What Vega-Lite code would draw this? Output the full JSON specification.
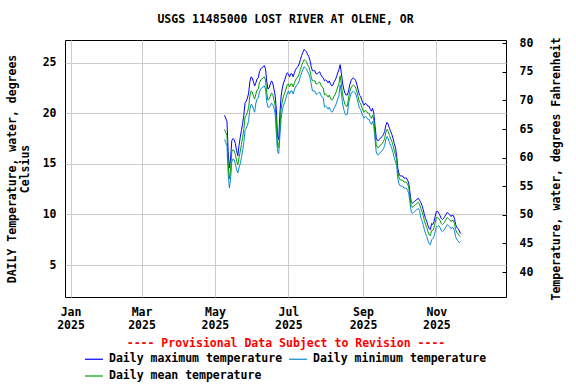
{
  "$schema": "https://vega.github.io/schema/vega-lite/v6.json",
  "width": 441,
  "height": 257,
  "autosize": {"type": "none"},
  "padding": {"left": 65, "top": 40, "right": 70, "bottom": 87},
  "background": "white",
  "config": {
    "font": "DejaVu Sans Mono",
    "view": {"stroke": "black", "strokeWidth": 1},
    "axis": {"labelFont": "DejaVu Sans Mono", "labelFontWeight": "bold", "labelFontSize": 11.5, "labelColor": "black", "titleFont": "DejaVu Sans Mono", "titleFontWeight": "bold", "titleFontSize": 11.5, "titleColor": "black"},
    "legend": {"labelFont": "DejaVu Sans Mono", "labelFontWeight": "bold", "labelFontSize": 11.5, "labelColor": "black"}
  },
  "title": {"text": "USGS 11485000 LOST RIVER AT OLENE, OR", "font": "DejaVu Sans Mono", "fontSize": 11.5, "fontWeight": "bold", "color": "black", "offset": 11},
  "resolve": {"scale": {"y": "independent"}, "axis": {"y": "independent"}},
  "layer": [
    {
      "data": {"values": [
        {"d":"2025-05-09","mx":19.8,"me":18.4,"mn":17.4},
        {"d":"2025-05-10","mx":19.5,"me":18.1,"mn":17.1},
        {"d":"2025-05-11","mx":19.2,"me":17.8,"mn":16.8},
        {"d":"2025-05-12","mx":16.2,"me":15.0,"mn":14.0},
        {"d":"2025-05-13","mx":14.6,"me":13.5,"mn":12.6},
        {"d":"2025-05-14","mx":15.5,"me":14.4,"mn":13.5},
        {"d":"2025-05-15","mx":17.3,"me":16.2,"mn":15.2},
        {"d":"2025-05-16","mx":17.5,"me":16.4,"mn":15.5},
        {"d":"2025-05-17","mx":17.4,"me":16.3,"mn":15.4},
        {"d":"2025-05-18","mx":17.0,"me":15.9,"mn":15.0},
        {"d":"2025-05-19","mx":16.3,"me":15.3,"mn":14.4},
        {"d":"2025-05-20","mx":15.8,"me":14.9,"mn":14.1},
        {"d":"2025-05-21","mx":16.8,"me":15.6,"mn":14.6},
        {"d":"2025-05-22","mx":17.6,"me":16.2,"mn":15.0},
        {"d":"2025-05-23","mx":18.3,"me":16.9,"mn":15.6},
        {"d":"2025-05-24","mx":19.0,"me":17.6,"mn":16.3},
        {"d":"2025-05-25","mx":19.8,"me":18.4,"mn":17.1},
        {"d":"2025-05-26","mx":21.0,"me":19.6,"mn":18.3},
        {"d":"2025-05-27","mx":21.2,"me":19.8,"mn":18.5},
        {"d":"2025-05-28","mx":21.5,"me":20.1,"mn":18.8},
        {"d":"2025-05-29","mx":22.0,"me":20.6,"mn":19.3},
        {"d":"2025-05-30","mx":23.1,"me":21.7,"mn":20.4},
        {"d":"2025-05-31","mx":23.6,"me":22.2,"mn":20.9},
        {"d":"2025-06-01","mx":23.5,"me":22.1,"mn":20.8},
        {"d":"2025-06-02","mx":23.1,"me":21.7,"mn":20.4},
        {"d":"2025-06-03","mx":22.7,"me":21.4,"mn":20.1},
        {"d":"2025-06-04","mx":23.0,"me":21.9,"mn":21.0},
        {"d":"2025-06-05","mx":23.4,"me":22.3,"mn":21.4},
        {"d":"2025-06-06","mx":23.5,"me":22.4,"mn":21.5},
        {"d":"2025-06-07","mx":24.1,"me":23.0,"mn":22.1},
        {"d":"2025-06-08","mx":24.4,"me":23.3,"mn":22.4},
        {"d":"2025-06-09","mx":24.5,"me":23.4,"mn":22.5},
        {"d":"2025-06-10","mx":24.6,"me":23.5,"mn":22.6},
        {"d":"2025-06-11","mx":24.7,"me":23.6,"mn":22.7},
        {"d":"2025-06-12","mx":24.4,"me":23.3,"mn":22.4},
        {"d":"2025-06-13","mx":23.2,"me":22.1,"mn":21.2},
        {"d":"2025-06-14","mx":22.4,"me":21.3,"mn":20.6},
        {"d":"2025-06-15","mx":22.5,"me":21.4,"mn":20.6},
        {"d":"2025-06-16","mx":22.9,"me":21.7,"mn":20.7},
        {"d":"2025-06-17","mx":23.2,"me":22.0,"mn":21.0},
        {"d":"2025-06-18","mx":23.0,"me":21.9,"mn":20.9},
        {"d":"2025-06-19","mx":22.4,"me":21.3,"mn":20.5},
        {"d":"2025-06-20","mx":21.8,"me":20.8,"mn":20.0},
        {"d":"2025-06-21","mx":20.4,"me":19.2,"mn":18.0},
        {"d":"2025-06-22","mx":17.8,"me":16.8,"mn":16.2},
        {"d":"2025-06-23","mx":17.4,"me":16.6,"mn":16.0},
        {"d":"2025-06-24","mx":20.0,"me":18.7,"mn":17.8},
        {"d":"2025-06-25","mx":21.7,"me":20.4,"mn":19.5},
        {"d":"2025-06-26","mx":22.5,"me":21.2,"mn":20.3},
        {"d":"2025-06-27","mx":23.0,"me":21.7,"mn":20.8},
        {"d":"2025-06-28","mx":23.3,"me":22.0,"mn":21.1},
        {"d":"2025-06-29","mx":23.7,"me":22.4,"mn":21.5},
        {"d":"2025-06-30","mx":24.0,"me":22.8,"mn":21.9},
        {"d":"2025-07-01","mx":23.9,"me":22.9,"mn":22.2},
        {"d":"2025-07-02","mx":23.6,"me":22.6,"mn":21.9},
        {"d":"2025-07-03","mx":23.9,"me":22.9,"mn":22.2},
        {"d":"2025-07-04","mx":23.9,"me":22.9,"mn":22.2},
        {"d":"2025-07-05","mx":23.6,"me":22.6,"mn":21.9},
        {"d":"2025-07-06","mx":24.0,"me":23.0,"mn":22.3},
        {"d":"2025-07-07","mx":24.3,"me":23.3,"mn":22.6},
        {"d":"2025-07-08","mx":24.5,"me":23.5,"mn":22.8},
        {"d":"2025-07-09","mx":24.6,"me":23.6,"mn":22.9},
        {"d":"2025-07-10","mx":24.9,"me":23.9,"mn":23.2},
        {"d":"2025-07-11","mx":25.3,"me":24.3,"mn":23.6},
        {"d":"2025-07-12","mx":25.7,"me":24.7,"mn":24.0},
        {"d":"2025-07-13","mx":26.0,"me":25.0,"mn":24.3},
        {"d":"2025-07-14","mx":26.3,"me":25.3,"mn":24.6},
        {"d":"2025-07-15","mx":26.2,"me":25.2,"mn":24.5},
        {"d":"2025-07-16","mx":26.1,"me":25.1,"mn":24.4},
        {"d":"2025-07-17","mx":25.8,"me":24.8,"mn":24.1},
        {"d":"2025-07-18","mx":25.6,"me":24.6,"mn":23.9},
        {"d":"2025-07-19","mx":25.2,"me":24.2,"mn":23.5},
        {"d":"2025-07-20","mx":24.6,"me":23.6,"mn":22.9},
        {"d":"2025-07-21","mx":24.2,"me":23.2,"mn":22.2},
        {"d":"2025-07-22","mx":24.2,"me":23.2,"mn":22.2},
        {"d":"2025-07-23","mx":24.2,"me":23.2,"mn":22.2},
        {"d":"2025-07-24","mx":23.9,"me":22.9,"mn":21.9},
        {"d":"2025-07-25","mx":23.9,"me":22.9,"mn":21.9},
        {"d":"2025-07-26","mx":24.0,"me":23.0,"mn":22.0},
        {"d":"2025-07-27","mx":24.1,"me":23.1,"mn":22.1},
        {"d":"2025-07-28","mx":23.8,"me":22.8,"mn":21.8},
        {"d":"2025-07-29","mx":23.6,"me":22.6,"mn":21.6},
        {"d":"2025-07-30","mx":23.5,"me":22.5,"mn":21.5},
        {"d":"2025-07-31","mx":23.2,"me":21.8,"mn":20.6},
        {"d":"2025-08-01","mx":23.3,"me":21.9,"mn":20.7},
        {"d":"2025-08-02","mx":23.2,"me":21.8,"mn":20.6},
        {"d":"2025-08-03","mx":23.0,"me":21.6,"mn":20.4},
        {"d":"2025-08-04","mx":23.2,"me":21.8,"mn":20.6},
        {"d":"2025-08-05","mx":22.9,"me":21.5,"mn":20.3},
        {"d":"2025-08-06","mx":22.7,"me":21.3,"mn":20.1},
        {"d":"2025-08-07","mx":22.8,"me":21.4,"mn":20.2},
        {"d":"2025-08-08","mx":23.1,"me":21.7,"mn":20.5},
        {"d":"2025-08-09","mx":23.3,"me":21.9,"mn":20.7},
        {"d":"2025-08-10","mx":23.6,"me":22.2,"mn":21.0},
        {"d":"2025-08-11","mx":24.0,"me":22.6,"mn":21.4},
        {"d":"2025-08-12","mx":24.3,"me":22.9,"mn":21.7},
        {"d":"2025-08-13","mx":24.8,"me":23.7,"mn":22.8},
        {"d":"2025-08-14","mx":24.0,"me":22.9,"mn":22.0},
        {"d":"2025-08-15","mx":23.0,"me":21.9,"mn":21.0},
        {"d":"2025-08-16","mx":22.4,"me":21.3,"mn":20.4},
        {"d":"2025-08-17","mx":22.0,"me":20.9,"mn":20.0},
        {"d":"2025-08-18","mx":21.8,"me":20.7,"mn":19.8},
        {"d":"2025-08-19","mx":21.8,"me":20.7,"mn":19.9},
        {"d":"2025-08-20","mx":22.2,"me":21.5,"mn":20.9},
        {"d":"2025-08-21","mx":22.8,"me":22.1,"mn":21.5},
        {"d":"2025-08-22","mx":23.2,"me":22.5,"mn":21.9},
        {"d":"2025-08-23","mx":23.4,"me":22.7,"mn":22.1},
        {"d":"2025-08-24","mx":23.5,"me":22.8,"mn":22.2},
        {"d":"2025-08-25","mx":23.4,"me":22.7,"mn":22.1},
        {"d":"2025-08-26","mx":23.2,"me":22.5,"mn":21.9},
        {"d":"2025-08-27","mx":22.8,"me":22.1,"mn":21.5},
        {"d":"2025-08-28","mx":22.3,"me":21.6,"mn":21.0},
        {"d":"2025-08-29","mx":21.8,"me":21.1,"mn":20.5},
        {"d":"2025-08-30","mx":21.7,"me":21.0,"mn":20.4},
        {"d":"2025-08-31","mx":21.3,"me":20.6,"mn":20.0},
        {"d":"2025-09-01","mx":21.0,"me":20.3,"mn":19.7},
        {"d":"2025-09-02","mx":20.8,"me":20.1,"mn":19.5},
        {"d":"2025-09-03","mx":21.0,"me":20.3,"mn":19.7},
        {"d":"2025-09-04","mx":20.9,"me":20.2,"mn":19.6},
        {"d":"2025-09-05","mx":20.7,"me":20.0,"mn":19.4},
        {"d":"2025-09-06","mx":20.7,"me":20.0,"mn":19.4},
        {"d":"2025-09-07","mx":20.4,"me":19.7,"mn":19.1},
        {"d":"2025-09-08","mx":20.2,"me":19.5,"mn":18.9},
        {"d":"2025-09-09","mx":20.5,"me":19.8,"mn":19.2},
        {"d":"2025-09-10","mx":20.0,"me":19.3,"mn":18.7},
        {"d":"2025-09-11","mx":18.8,"me":18.1,"mn":17.4},
        {"d":"2025-09-12","mx":17.6,"me":16.9,"mn":16.2},
        {"d":"2025-09-13","mx":17.3,"me":16.6,"mn":15.9},
        {"d":"2025-09-14","mx":17.3,"me":16.6,"mn":15.9},
        {"d":"2025-09-15","mx":17.5,"me":16.8,"mn":16.1},
        {"d":"2025-09-16","mx":17.6,"me":16.9,"mn":16.2},
        {"d":"2025-09-17","mx":17.7,"me":17.0,"mn":16.3},
        {"d":"2025-09-18","mx":17.9,"me":17.2,"mn":16.5},
        {"d":"2025-09-19","mx":18.2,"me":17.5,"mn":16.8},
        {"d":"2025-09-20","mx":18.8,"me":18.1,"mn":17.4},
        {"d":"2025-09-21","mx":19.1,"me":18.4,"mn":17.7},
        {"d":"2025-09-22","mx":18.9,"me":18.2,"mn":17.5},
        {"d":"2025-09-23","mx":18.5,"me":17.8,"mn":17.1},
        {"d":"2025-09-24","mx":18.2,"me":17.5,"mn":16.8},
        {"d":"2025-09-25","mx":17.9,"me":17.2,"mn":16.5},
        {"d":"2025-09-26","mx":17.5,"me":16.8,"mn":16.1},
        {"d":"2025-09-27","mx":17.0,"me":16.3,"mn":15.6},
        {"d":"2025-09-28","mx":16.6,"me":15.9,"mn":15.2},
        {"d":"2025-09-29","mx":15.8,"me":15.4,"mn":14.8},
        {"d":"2025-09-30","mx":14.5,"me":14.1,"mn":13.5},
        {"d":"2025-10-01","mx":14.0,"me":13.6,"mn":13.0},
        {"d":"2025-10-02","mx":13.8,"me":13.4,"mn":12.8},
        {"d":"2025-10-03","mx":13.8,"me":13.4,"mn":12.8},
        {"d":"2025-10-04","mx":13.8,"me":13.4,"mn":12.8},
        {"d":"2025-10-05","mx":13.6,"me":13.2,"mn":12.6},
        {"d":"2025-10-06","mx":13.6,"me":13.2,"mn":12.6},
        {"d":"2025-10-07","mx":13.6,"me":13.2,"mn":12.6},
        {"d":"2025-10-08","mx":13.4,"me":13.0,"mn":12.4},
        {"d":"2025-10-09","mx":13.1,"me":12.7,"mn":12.1},
        {"d":"2025-10-10","mx":12.2,"me":11.8,"mn":11.2},
        {"d":"2025-10-11","mx":11.3,"me":10.9,"mn":10.3},
        {"d":"2025-10-12","mx":11.1,"me":10.7,"mn":10.1},
        {"d":"2025-10-13","mx":11.2,"me":10.8,"mn":10.2},
        {"d":"2025-10-14","mx":11.3,"me":10.9,"mn":10.3},
        {"d":"2025-10-15","mx":11.4,"me":11.0,"mn":10.4},
        {"d":"2025-10-16","mx":11.5,"me":11.1,"mn":10.5},
        {"d":"2025-10-17","mx":11.6,"me":11.2,"mn":10.6},
        {"d":"2025-10-18","mx":11.4,"me":11.0,"mn":10.4},
        {"d":"2025-10-19","mx":11.2,"me":10.6,"mn":9.7},
        {"d":"2025-10-20","mx":10.9,"me":10.3,"mn":9.4},
        {"d":"2025-10-21","mx":10.5,"me":9.9,"mn":9.0},
        {"d":"2025-10-22","mx":10.0,"me":9.4,"mn":8.5},
        {"d":"2025-10-23","mx":9.6,"me":9.0,"mn":8.1},
        {"d":"2025-10-24","mx":9.3,"me":8.7,"mn":7.8},
        {"d":"2025-10-25","mx":8.9,"me":8.3,"mn":7.4},
        {"d":"2025-10-26","mx":8.6,"me":8.0,"mn":7.1},
        {"d":"2025-10-27","mx":8.5,"me":7.9,"mn":7.0},
        {"d":"2025-10-28","mx":9.1,"me":8.4,"mn":7.5},
        {"d":"2025-10-29","mx":9.0,"me":8.4,"mn":7.6},
        {"d":"2025-10-30","mx":9.3,"me":8.7,"mn":7.8},
        {"d":"2025-10-31","mx":9.8,"me":9.2,"mn":8.3},
        {"d":"2025-11-01","mx":10.3,"me":9.7,"mn":8.8},
        {"d":"2025-11-02","mx":10.3,"me":9.7,"mn":8.8},
        {"d":"2025-11-03","mx":10.1,"me":9.6,"mn":8.9},
        {"d":"2025-11-04","mx":9.9,"me":9.4,"mn":8.7},
        {"d":"2025-11-05","mx":9.6,"me":9.1,"mn":8.4},
        {"d":"2025-11-06","mx":9.5,"me":9.0,"mn":8.3},
        {"d":"2025-11-07","mx":9.6,"me":9.1,"mn":8.4},
        {"d":"2025-11-08","mx":9.8,"me":9.3,"mn":8.6},
        {"d":"2025-11-09","mx":10.0,"me":9.5,"mn":8.8},
        {"d":"2025-11-10","mx":10.2,"me":9.7,"mn":9.0},
        {"d":"2025-11-11","mx":10.1,"me":9.6,"mn":8.9},
        {"d":"2025-11-12","mx":10.0,"me":9.5,"mn":8.8},
        {"d":"2025-11-13","mx":9.8,"me":9.3,"mn":8.6},
        {"d":"2025-11-14","mx":9.9,"me":9.4,"mn":8.7},
        {"d":"2025-11-15","mx":9.9,"me":9.4,"mn":8.7},
        {"d":"2025-11-16","mx":9.6,"me":9.1,"mn":8.4},
        {"d":"2025-11-17","mx":9.0,"me":8.5,"mn":7.8},
        {"d":"2025-11-18","mx":8.7,"me":8.2,"mn":7.5},
        {"d":"2025-11-19","mx":8.6,"me":8.1,"mn":7.4},
        {"d":"2025-11-20","mx":8.4,"me":7.9,"mn":7.2},
        {"d":"2025-11-21","mx":8.1,"me":7.8,"mn":7.3}
      ]},
      "transform": [{"fold": ["mx", "mn", "me"], "as": ["k", "v"]}],
      "mark": {"type": "line", "strokeWidth": 1},
      "encoding": {
        "x": {
          "field": "d", "type": "temporal",
          "scale": {"type": "utc", "domain": [{"year": 2024, "month": 12, "date": 27, "hours": 10, "utc": true}, {"year": 2025, "month": 12, "date": 28, "hours": 20, "utc": true}]},
          "axis": {
            "values": [
              {"year": 2025, "month": 1, "date": 1, "utc": true},
              {"year": 2025, "month": 3, "date": 1, "utc": true},
              {"year": 2025, "month": 5, "date": 1, "utc": true},
              {"year": 2025, "month": 7, "date": 1, "utc": true},
              {"year": 2025, "month": 9, "date": 1, "utc": true},
              {"year": 2025, "month": 11, "date": 1, "utc": true}
            ],
            "labelExpr": "[utcFormat(datum.value, '%b'), utcFormat(datum.value, '%Y')]",
            "ticks": false, "domain": false, "grid": true, "gridColor": "#cccccc", "gridWidth": 1,
            "labelPadding": 9, "labelLineHeight": 13, "labelFlush": false, "labelOverlap": false,
            "title": "---- Provisional Data Subject to Revision ----", "titleColor": "#ff0000", "titlePadding": 7
          }
        },
        "y": {
          "field": "v", "type": "quantitative",
          "scale": {"domain": [1.84, 27.24], "nice": false, "zero": false},
          "axis": {
            "values": [5, 10, 15, 20, 25], "grid": true, "gridColor": "#cccccc", "ticks": false, "domain": false,
            "labelPadding": 9, "title": ["DAILY Temperature, water, degrees", "Celsius"], "titlePadding": 12, "titleLineHeight": 13
          }
        },
        "color": {
          "field": "k", "type": "nominal",
          "scale": {"domain": ["mx", "mn", "me"], "range": ["#0000ff", "#0a8ad2", "#00a000"]},
          "legend": {
            "title": null, "orient": "none", "legendX": 19, "legendY": 309, "columns": 2, "direction": "horizontal",
            "symbolType": "stroke", "symbolSize": 324, "symbolStrokeWidth": 1.2, "labelOffset": 5, "columnPadding": 3, "rowPadding": 1,
            "labelLimit": 400,
            "labelExpr": "{'mx': 'Daily maximum temperature', 'mn': 'Daily minimum temperature', 'me': 'Daily mean temperature'}[datum.label]"
          }
        }
      }
    },
    {
      "data": {"values": [{"f": 40}]},
      "mark": {"type": "rule", "opacity": 0},
      "encoding": {
        "y": {
          "field": "f", "type": "quantitative",
          "scale": {"domain": [35.63, 80.58], "nice": false, "zero": false},
          "axis": {
            "orient": "right", "values": [40, 45, 50, 55, 60, 65, 70, 75, 80], "grid": false, "domain": false,
            "ticks": true, "tickSize": -4, "tickColor": "black", "labelPadding": 17,
            "title": "Temperature, water, degrees Fahrenheit", "titleAngle": 270, "titlePadding": 29
          }
        }
      }
    }
  ]
}
